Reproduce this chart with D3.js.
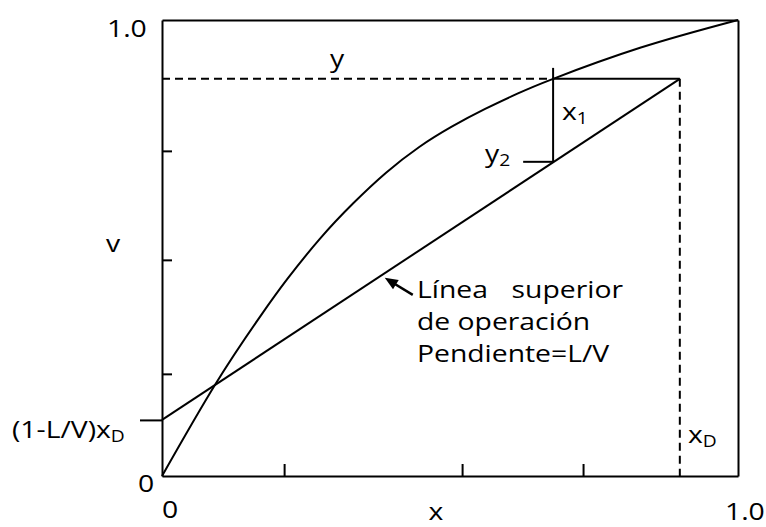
<!DOCTYPE html>
<html>
<head>
<meta charset="utf-8">
<script src="https://cdn.jsdelivr.net/npm/d3@7"></script>
<style>
  html, body { margin: 0; padding: 0; background: #fff; }
  svg { display: block; }
  text { font-family: "Open Sans", sans-serif; fill: #000; }
</style>
</head>
<body>
<svg id="chart" width="766" height="527"></svg>
<script>
// Equilibrium curve (x, y)
const eqX = [0, 0.094, 0.170, 0.217, 0.274, 0.332, 0.389, 0.446, 0.503, 0.561, 0.618, 0.679, 0.830, 1.0];
const eqY = [0, 0.204, 0.349, 0.431, 0.520, 0.598, 0.665, 0.721, 0.766, 0.805, 0.839, 0.871, 0.939, 1.0];

// Upper operating line: from intercept (1-L/V)xD to the distillate point
const xD = 0.899;
const yD = 0.871;          // y1 level drawn through the top step
const intercept = 0.123;   // (1-L/V)xD
const opX = [0, xD];
const opY = [intercept, yD];

// First stage step
const x1 = 0.679;          // liquid leaving stage 1
const stepTop = 0.895;     // vertical marker overshoots the y line a little
const y2 = 0.689;          // operating-line value under x1
const y2Tick = 0.627;      // short lead line for the y2 label

// Axis tick positions
const xTicks = [0.212, 0.521, 0.731];
const yTicks = [0.224, 0.474, 0.713];

const W = 766, H = 527;
const margin = { left: 162, top: 20, right: 28, bottom: 51 };
const x = d3.scaleLinear().domain([0, 1]).range([margin.left, W - margin.right]);
const y = d3.scaleLinear().domain([0, 1]).range([H - margin.bottom, margin.top]);

const svg = d3.select("#chart");
const SX = 1.18;   // horizontal text stretch
const FS = 24;

function label(px, py, parts, anchor) {
  const g = svg.append("g").attr("transform", `translate(${px},${py}) scale(${SX},1)`);
  const t = g.append("text").attr("text-anchor", anchor || "start").style("font-size", FS + "px");
  parts.forEach(p => {
    const s = t.append("tspan").text(p.t);
    if (p.sub) s.style("font-size", (FS * 0.68) + "px").attr("dy", 4);
  });
  return t;
}

// Frame via axes
const stroke = 2;
const styleAxis = g => {
  g.selectAll("path.domain").attr("stroke", "#000").attr("stroke-width", stroke);
  g.selectAll(".tick line").attr("stroke", "#000").attr("stroke-width", stroke);
  g.selectAll(".tick text").remove();
};
svg.append("g").attr("transform", `translate(0,${y(0)})`)
  .call(d3.axisBottom(x).tickValues(xTicks).tickSize(-12).tickSizeOuter(0).tickFormat(""))
  .call(styleAxis);
svg.append("g").attr("transform", `translate(${x(0)},0)`)
  .call(d3.axisLeft(y).tickValues(yTicks).tickSize(-10).tickSizeOuter(0).tickFormat(""))
  .call(styleAxis);
svg.append("g").attr("transform", `translate(0,${y(1)})`)
  .call(d3.axisTop(x).tickValues([]).tickSizeOuter(0))
  .call(styleAxis);
svg.append("g").attr("transform", `translate(${x(1)},0)`)
  .call(d3.axisRight(y).tickValues([]).tickSizeOuter(0))
  .call(styleAxis);
// Intercept marker, pointing outward
svg.append("g").attr("transform", `translate(${x(0)},0)`)
  .call(d3.axisLeft(y).tickValues([intercept]).tickSize(22).tickSizeOuter(0).tickFormat(""))
  .call(g => g.select("path.domain").remove())
  .call(styleAxis);

const straight = d3.line().x(d => x(d[0])).y(d => y(d[1]));
const smooth = d3.line().x(d => x(d[0])).y(d => y(d[1])).curve(d3.curveNatural);

// Equilibrium curve
svg.append("path")
  .datum(eqX.map((v, i) => [v, eqY[i]]))
  .attr("d", smooth)
  .attr("fill", "none").attr("stroke", "#000").attr("stroke-width", stroke);

// Operating line
svg.append("path")
  .datum(opX.map((v, i) => [v, opY[i]]))
  .attr("d", straight)
  .attr("fill", "none").attr("stroke", "#000").attr("stroke-width", stroke);

// Dashed guides
const dash = "8,5";
svg.append("path").datum([[0, yD], [x1, yD]]).attr("d", straight)
  .attr("fill", "none").attr("stroke", "#000").attr("stroke-width", stroke).attr("stroke-dasharray", dash);
svg.append("path").datum([[xD, yD], [xD, 0]]).attr("d", straight)
  .attr("fill", "none").attr("stroke", "#000").attr("stroke-width", stroke).attr("stroke-dasharray", dash);

// Step: horizontal to xD, vertical at x1, lead line at y2
[[[x1, yD], [xD, yD]], [[x1, stepTop], [x1, y2]], [[y2Tick, y2], [x1, y2]]].forEach(seg => {
  svg.append("path").datum(seg).attr("d", straight)
    .attr("fill", "none").attr("stroke", "#000").attr("stroke-width", stroke);
});

// Arrow toward the operating line
const ax = 0.385;
const tip = [x(ax) + 1, y(intercept + (yD - intercept) / xD * ax) + 4];
const tail = [tip[0] + 28, tip[1] + 17];
const ang = Math.atan2(tail[1] - tip[1], tail[0] - tip[0]);
const hl = 13, hw = 5.5;
svg.append("line").attr("x1", tail[0]).attr("y1", tail[1])
  .attr("x2", tip[0] + Math.cos(ang) * 8).attr("y2", tip[1] + Math.sin(ang) * 8)
  .attr("stroke", "#000").attr("stroke-width", 2.5);
const bx = tip[0] + Math.cos(ang) * hl, by = tip[1] + Math.sin(ang) * hl;
svg.append("path")
  .attr("d", `M${tip[0]},${tip[1]}L${bx - Math.sin(ang) * hw},${by + Math.cos(ang) * hw}L${bx + Math.sin(ang) * hw},${by - Math.cos(ang) * hw}Z`)
  .attr("fill", "#000");

// Labels
label(107, 37, [{ t: "1.0" }]);
label(138, 492, [{ t: "0" }]);
label(x(0), 518, [{ t: "0" }]);
label(725, 520, [{ t: "1.0" }]);
label(436, 520, [{ t: "x" }], "middle");
label(113, 252, [{ t: "v" }], "middle");
label(337, 67, [{ t: "y" }], "middle");
label(562, 120, [{ t: "x" }, { t: "1", sub: true }]);
label(485, 162, [{ t: "y" }, { t: "2", sub: true }]);
label(688, 443, [{ t: "x" }, { t: "D", sub: true }]);
label(12, 438, [{ t: "(1-L/V)x" }, { t: "D", sub: true }]);
label(417, 298, [{ t: "Línea" }]);
label(623, 298, [{ t: "superior" }], "end");
label(417, 330, [{ t: "de operación" }]);
label(417, 362, [{ t: "Pendiente=L/V" }]);
</script>
</body>
</html>
